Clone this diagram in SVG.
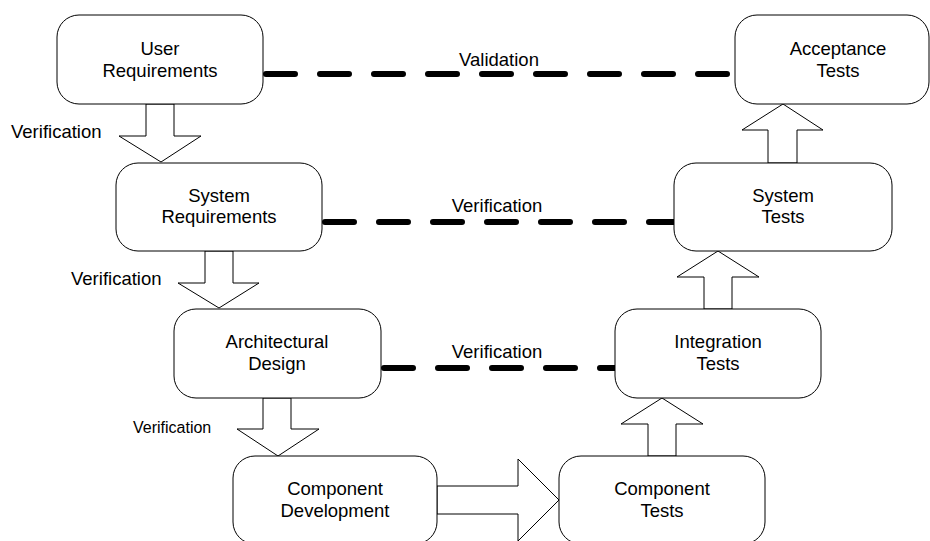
<svg xmlns="http://www.w3.org/2000/svg" width="930" height="541" viewBox="0 0 930 541">
<style>
.node rect{fill:#fff;stroke:#000;stroke-width:1}
.node text,.lbl{font-family:"Liberation Sans",Arial,sans-serif;font-size:18.5px;fill:#000}
.node text{text-anchor:middle}
.dash{stroke:#000;stroke-width:6;stroke-linecap:round;stroke-dasharray:29 25;fill:none}
.blk{fill:#fff;stroke:#000;stroke-width:1;stroke-linejoin:miter}
.mid{text-anchor:middle}
.sm{font-size:16px}
</style>
<rect width="930" height="541" fill="#fff"/>
<g id="connectors">
<line class="dash" x1="266" y1="74" x2="735" y2="74"/>
<line class="dash" x1="325" y1="222" x2="674" y2="222"/>
<line class="dash" x1="384" y1="368" x2="615" y2="368"/>
<polygon class="blk" points="146,104 174,104 174,136 201,136 161,162 119,136 146,136"/>
<polygon class="blk" points="205,251 233,251 233,283 259,283 219,308 178,283 205,283"/>
<polygon class="blk" points="263,398 291,398 291,429 319,429 278,456 237,429 263,429"/>
<polygon class="blk" points="437,486 518,486 518,459 559,500 518,541 518,514 437,514"/>
<polygon class="blk" points="648,456 676,456 676,424 703,424 662,398 621,424 648,424"/>
<polygon class="blk" points="704,309 732,309 732,277 759,277 718,251 677,277 704,277"/>
<polygon class="blk" points="768,163 797,163 797,130 823,130 783,104 742,130 768,130"/>
<text class="lbl" x="11" y="138">Verification</text>
<text class="lbl" x="71" y="285">Verification</text>
<text class="lbl sm" x="133" y="433">Verification</text>
<text class="lbl mid" x="499" y="66">Validation</text>
<text class="lbl mid" x="497" y="212">Verification</text>
<text class="lbl mid" x="497" y="358">Verification</text>
</g>
<g id="user-req" class="node"><rect x="57" y="15" width="206" height="89" rx="22"/><text x="160" y="55">User</text><text x="160" y="77">Requirements</text></g>
<g id="sys-req" class="node"><rect x="116" y="163" width="206" height="88" rx="22"/><text x="219" y="202">System</text><text x="219" y="223">Requirements</text></g>
<g id="arch" class="node"><rect x="174" y="309" width="207" height="89" rx="22"/><text x="277" y="348">Architectural</text><text x="277" y="370">Design</text></g>
<g id="comp-dev" class="node"><rect x="233" y="456" width="204" height="88" rx="22"/><text x="335" y="495">Component</text><text x="335" y="517">Development</text></g>
<g id="comp-tests" class="node"><rect x="559" y="456" width="206" height="88" rx="22"/><text x="662" y="495">Component</text><text x="662" y="517">Tests</text></g>
<g id="int-tests" class="node"><rect x="615" y="309" width="206" height="89" rx="22"/><text x="718" y="348">Integration</text><text x="718" y="370">Tests</text></g>
<g id="sys-tests" class="node"><rect x="674" y="163" width="218" height="88" rx="22"/><text x="783" y="202">System</text><text x="783" y="223">Tests</text></g>
<g id="acc-tests" class="node"><rect x="735" y="15" width="194" height="89" rx="22"/><text x="838" y="55">Acceptance</text><text x="838" y="77">Tests</text></g>
</svg>
